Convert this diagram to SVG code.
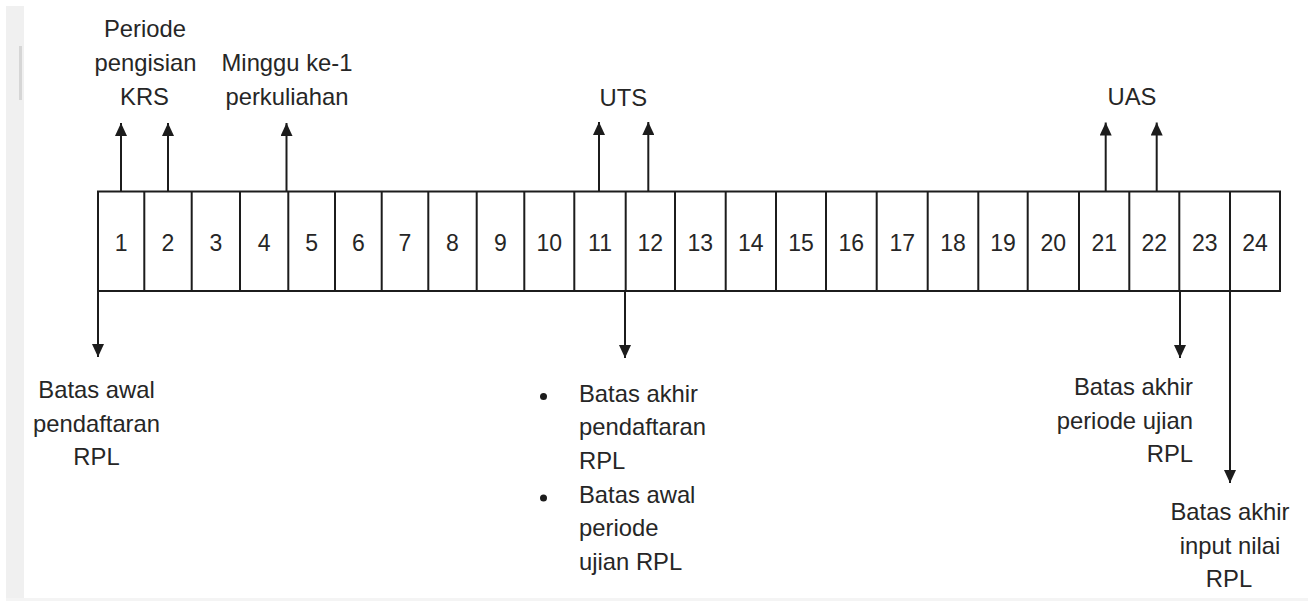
<svg xmlns="http://www.w3.org/2000/svg" width="1308" height="601" viewBox="0 0 1308 601">
<style>
.t{font-family:"Liberation Sans",Arial,sans-serif;font-size:23.8px;fill:#262626}
.n{font-family:"Liberation Sans",Arial,sans-serif;font-size:23px;fill:#262626;text-anchor:middle}
.m{text-anchor:middle}
.e{text-anchor:end}
.c{stroke:#1c1c1c;stroke-width:2;fill:none}
.box{stroke:#1c1c1c;stroke-width:2;fill:#ffffff}
</style>
<defs>
<marker id="ah" markerUnits="userSpaceOnUse" markerWidth="13" markerHeight="12" refX="13" refY="6" orient="auto">
<path d="M0,0 L13,6 L0,12 z" fill="#1c1c1c"/>
</marker>
</defs>
<rect width="1308" height="601" fill="#ffffff"/>
<rect x="6" y="6" width="18" height="595" fill="#f0f0f0"/>
<rect x="19" y="46" width="3" height="54" fill="#d6d6d6"/>
<rect x="6" y="598" width="1302" height="3" fill="#f4f4f4"/>

<g id="timeline">
<rect class="box" x="98" y="191.5" width="1182" height="99.5"/>
<path class="c" d="M144.3,191.5V291M191.7,191.5V291M240,191.5V291M288.3,191.5V291M335,191.5V291M381.7,191.5V291M428.3,191.5V291M476.7,191.5V291M524.3,191.5V291M574.3,191.5V291M625.7,191.5V291M675,191.5V291M725.7,191.5V291M776,191.5V291M826,191.5V291M876.7,191.5V291M927.7,191.5V291M978.3,191.5V291M1027.7,191.5V291M1079,191.5V291M1129.3,191.5V291M1179.3,191.5V291M1230,191.5V291"/>
<text class="n" x="121.2" y="251">1</text>
<text class="n" x="168" y="251">2</text>
<text class="n" x="215.8" y="251">3</text>
<text class="n" x="264.2" y="251">4</text>
<text class="n" x="311.7" y="251">5</text>
<text class="n" x="358.3" y="251">6</text>
<text class="n" x="405" y="251">7</text>
<text class="n" x="452.5" y="251">8</text>
<text class="n" x="500.5" y="251">9</text>
<text class="n" x="549.3" y="251">10</text>
<text class="n" x="600" y="251">11</text>
<text class="n" x="650.3" y="251">12</text>
<text class="n" x="700.3" y="251">13</text>
<text class="n" x="750.8" y="251">14</text>
<text class="n" x="801" y="251">15</text>
<text class="n" x="851.3" y="251">16</text>
<text class="n" x="902.2" y="251">17</text>
<text class="n" x="953" y="251">18</text>
<text class="n" x="1003" y="251">19</text>
<text class="n" x="1053.3" y="251">20</text>
<text class="n" x="1104.2" y="251">21</text>
<text class="n" x="1154.3" y="251">22</text>
<text class="n" x="1204.7" y="251">23</text>
<text class="n" x="1255" y="251">24</text>
</g>

<g id="connectors">
<line class="c" x1="121" y1="191" x2="121" y2="123" marker-end="url(#ah)"/>
<line class="c" x1="168" y1="191" x2="168" y2="123" marker-end="url(#ah)"/>
<line class="c" x1="286.5" y1="191" x2="286.5" y2="123" marker-end="url(#ah)"/>
<line class="c" x1="599" y1="191" x2="599" y2="122" marker-end="url(#ah)"/>
<line class="c" x1="648.3" y1="191" x2="648.3" y2="122" marker-end="url(#ah)"/>
<line class="c" x1="1105.7" y1="191" x2="1105.7" y2="122.5" marker-end="url(#ah)"/>
<line class="c" x1="1156.7" y1="191" x2="1156.7" y2="122.5" marker-end="url(#ah)"/>
<line class="c" x1="98" y1="291" x2="98" y2="357" marker-end="url(#ah)"/>
<line class="c" x1="625" y1="291" x2="625" y2="358" marker-end="url(#ah)"/>
<line class="c" x1="1180" y1="291" x2="1180" y2="358" marker-end="url(#ah)"/>
<line class="c" x1="1230" y1="291" x2="1230" y2="483" marker-end="url(#ah)"/>
</g>

<g id="label-krs">
<text class="t m" x="145" y="37">Periode</text>
<text class="t m" x="145.5" y="71">pengisian</text>
<text class="t m" x="144.5" y="105">KRS</text>
</g>
<g id="label-minggu">
<text class="t m" x="287" y="71">Minggu ke-1</text>
<text class="t m" x="287" y="105">perkuliahan</text>
</g>
<g id="label-uts">
<text class="t m" x="623.3" y="106">UTS</text>
</g>
<g id="label-uas">
<text class="t m" x="1132" y="105">UAS</text>
</g>
<g id="label-awal">
<text class="t m" x="96.5" y="398">Batas awal</text>
<text class="t m" x="96.5" y="431.5">pendaftaran</text>
<text class="t m" x="96.5" y="465">RPL</text>
</g>
<g id="label-akhir-pendaftaran">
<circle cx="543.5" cy="396.5" r="3.5" fill="#1c1c1c"/>
<circle cx="543.5" cy="498" r="3.5" fill="#1c1c1c"/>
<text class="t" x="579" y="401.5">Batas akhir</text>
<text class="t" x="579" y="435">pendaftaran</text>
<text class="t" x="579" y="468.5">RPL</text>
<text class="t" x="579" y="502.5">Batas awal</text>
<text class="t" x="579" y="536">periode</text>
<text class="t" x="579" y="569.5">ujian RPL</text>
</g>
<g id="label-akhir-ujian">
<text class="t e" x="1193" y="395">Batas akhir</text>
<text class="t e" x="1193" y="428.5">periode ujian</text>
<text class="t e" x="1193" y="462">RPL</text>
</g>
<g id="label-akhir-nilai">
<text class="t m" x="1230" y="520">Batas akhir</text>
<text class="t m" x="1230" y="553.5">input nilai</text>
<text class="t m" x="1229" y="587">RPL</text>
</g>
</svg>
